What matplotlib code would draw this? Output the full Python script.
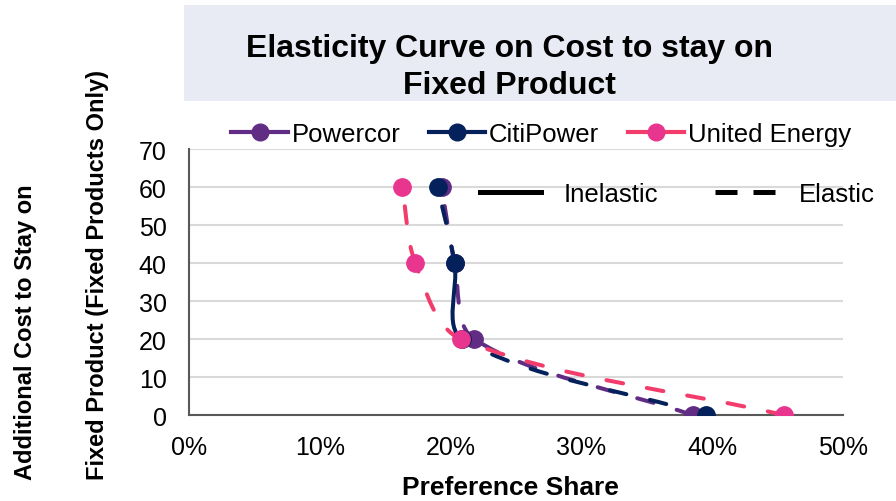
import matplotlib
matplotlib.use("Agg")
import numpy as np
import matplotlib.pyplot as plt
from matplotlib.path import Path
from matplotlib.patches import PathPatch, Rectangle
from matplotlib.lines import Line2D
from matplotlib.ticker import PercentFormatter

plt.rcParams["font.family"] = ["Liberation Sans", "DejaVu Sans"]

# data
cost = [0, 20, 40, 60]
powercor = [0.385, 0.218, 0.203, 0.193]
citipower = [0.395, 0.209, 0.203, 0.190]
united = [0.455, 0.208, 0.173, 0.163]

names = ["Powercor", "CitiPower", "United Energy"]
line_colors = ["#612D84", "#04215B", "#F23D6C"]
marker_colors = ["#612D84", "#04215B", "#E8368F"]
# line style of each segment (0->20, 20->40, 40->60)
seg_styles = [["--", "--", "--"], ["--", "-", "--"], ["--", "--", "--"]]


def smooth_segments(ax, xs, ys):
    # excel-like smoothed line, control points worked out in screen space
    pts = ax.transData.transform(np.column_stack([xs, ys]))
    inv = ax.transData.inverted()
    n = len(pts)
    segs = []
    for i in range(n - 1):
        p0 = pts[i - 1] if i > 0 else pts[i]
        p1, p2 = pts[i], pts[i + 1]
        p3 = pts[i + 2] if i + 2 < n else pts[i + 1]
        d01 = np.hypot(*(p1 - p0))
        d12 = np.hypot(*(p2 - p1))
        d23 = np.hypot(*(p3 - p2))
        c1 = p1 + (p2 - p0) * d12 / (d01 + d12) / 3
        c2 = p2 - (p3 - p1) * d12 / (d12 + d23) / 3
        verts = inv.transform(np.array([p1, c1, c2, p2]))
        segs.append(Path(verts, [Path.MOVETO, Path.CURVE4, Path.CURVE4, Path.CURVE4]))
    return segs


fig = plt.figure(figsize=(8.96, 5.02), dpi=100)
fig.patches.append(Rectangle((0.205, 0.797), 0.8, 0.191, transform=fig.transFigure,
                             facecolor="#E8EAF4", edgecolor="none", zorder=0))
fig.text(0.569, 0.866, "Elasticity Curve on Cost to stay on\nFixed Product", ha="center", va="center",
         fontsize=23, fontweight="bold", linespacing=1.3)

ax = fig.add_axes([0.211, 0.171, 0.730, 0.530])
ax.set_xlim(0, 0.5)
ax.set_ylim(0, 70)

handles = []
for vals, name, lc, mc, styles in zip([powercor, citipower, united], names, line_colors, marker_colors, seg_styles):
    for seg, ls in zip(smooth_segments(ax, vals, cost), styles):
        dash = (0, (4.2, 6.0)) if ls == "--" else "-"
        ax.add_patch(PathPatch(seg, fill=False, edgecolor=lc, linewidth=2.9, linestyle=dash,
                               capstyle="round", zorder=3))
    ax.plot(vals, cost, "o", color=mc, markersize=12.5, zorder=4)
    handles.append(Line2D([], [], color=lc, linewidth=3, marker="o", markersize=12,
                          markerfacecolor=mc, markeredgecolor=mc, label=name))

ax.set_xticks([0, 0.1, 0.2, 0.3, 0.4, 0.5])
ax.set_yticks(range(0, 71, 10))
ax.xaxis.set_major_formatter(PercentFormatter(1.0, decimals=0))
ax.tick_params(length=0, labelsize=18)
ax.tick_params(axis="y", pad=16)
ax.tick_params(axis="x", pad=14)
ax.grid(axis="y", color="#D9D9D9", linewidth=1.5)
ax.set_axisbelow(True)
for s in ["top", "right"]:
    ax.spines[s].set_visible(False)
for s in ["left", "bottom"]:
    ax.spines[s].set_color("#595959")
    ax.spines[s].set_linewidth(1.5)

fig.legend(handles=handles, loc="center", bbox_to_anchor=(0.604, 0.731), ncol=3, frameon=False,
           fontsize=18.5, handlelength=2.2, handletextpad=0.15, columnspacing=1.1, borderpad=0)

style_handles = [Line2D([], [], color="black", linewidth=3.6, label="Inelastic"),
                 Line2D([], [], color="black", linewidth=3.6, linestyle=(0, (4.4, 3.2)), label="Elastic")]
fig.legend(handles=style_handles, loc="center", bbox_to_anchor=(0.756, 0.612), ncol=2, frameon=False,
           fontsize=18.5, handlelength=2.35, handletextpad=0.9, columnspacing=2.2, borderpad=0)

fig.text(0.570, 0.028, "Preference Share", ha="center", va="center", fontsize=19, fontweight="bold")
fig.text(0.029, 0.044, "Additional Cost to Stay on", rotation=90, ha="center", va="bottom",
         fontsize=17, fontweight="bold")
fig.text(0.109, 0.044, "Fixed Product (Fixed Products Only)", rotation=90, ha="center", va="bottom",
         fontsize=17, fontweight="bold")

fig.savefig("out.png", dpi=100)
